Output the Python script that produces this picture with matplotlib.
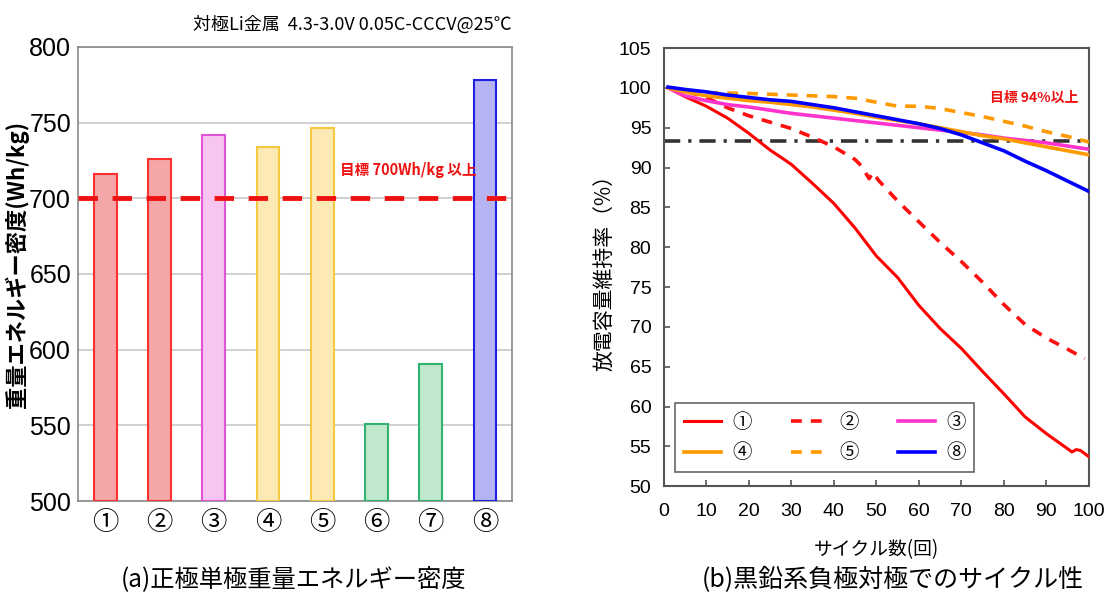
import matplotlib
matplotlib.use("Agg")
import matplotlib.pyplot as plt
from matplotlib import font_manager

names = {f.name for f in font_manager.fontManager.ttflist}
NARROW = 'Liberation Sans Narrow' if 'Liberation Sans Narrow' in names else 'Liberation Sans'
JP = 'Noto Sans CJK JP'
plt.rcParams['font.family'] = [JP, 'DejaVu Sans']

# ---- data: panel (a) ----
bar_labels = ['①', '②', '③', '④', '⑤', '⑥', '⑦', '⑧']
bar_values = [716, 726, 742, 734, 746.5, 551, 590.5, 778]
bar_fill = ['#f5a6a6', '#f5a6a6', '#f8c4f0', '#fde9b4', '#fde9b4', '#bfe8cc', '#bfe8cc', '#b4b4f2']
bar_edge = ['#ff3030', '#ff3030', '#e055d5', '#f5c842', '#f5c842', '#2fb36e', '#2fb36e', '#2020e0']
a_yticks = [500, 550, 600, 650, 700, 750, 800]
target_a = 700

# ---- data: panel (b) ----
c1_x = [1, 5, 10, 15, 20, 25, 30, 35, 40, 45, 50, 55, 60, 65, 70, 75, 80, 85, 90, 95, 96, 97, 98, 100]
c1_y = [100, 98.9, 97.7, 96.2, 94.3, 92.2, 90.4, 88.0, 85.5, 82.4, 78.9, 76.2, 72.7, 69.8, 67.3, 64.4, 61.6, 58.7, 56.6, 54.7, 54.3, 54.6, 54.5, 53.7]
c2_x = [1, 5, 10, 15, 20, 25, 30, 35, 40, 45, 46.5, 48.3, 49.2, 50.5, 55, 60, 65, 70, 75, 80, 85, 90, 95, 99]
c2_y = [100, 99.6, 98.8, 97.5, 96.5, 95.7, 94.9, 93.8, 92.6, 91.0, 90.2, 88.6, 89.4, 88.4, 85.8, 83.2, 80.6, 78.2, 75.6, 72.8, 70.3, 68.6, 67.2, 66.0]
c3_x = [1, 5, 10, 15, 20, 25, 30, 35, 40, 45, 50, 55, 60, 65, 70, 75, 80, 85, 90, 95, 100]
c3_y = [100, 99.0, 98.4, 97.9, 97.6, 97.2, 96.8, 96.5, 96.2, 95.9, 95.6, 95.3, 95.0, 94.7, 94.4, 94.1, 93.7, 93.4, 93.1, 92.7, 92.3]
c4_x = [1, 5, 10, 15, 20, 25, 30, 35, 40, 45, 50, 55, 60, 65, 70, 75, 80, 85, 90, 95, 100]
c4_y = [100, 99.5, 99.0, 98.7, 98.4, 98.2, 97.9, 97.6, 97.2, 96.8, 96.3, 95.9, 95.5, 95.0, 94.5, 94.0, 93.6, 93.1, 92.6, 92.1, 91.6]
c5_x = [1, 5, 10, 20, 30, 40, 45, 50, 55, 60, 65, 70, 75, 80, 85, 90, 95, 100]
c5_y = [100, 99.6, 99.4, 99.3, 99.1, 98.9, 98.7, 98.2, 97.7, 97.7, 97.4, 96.9, 96.4, 95.8, 95.2, 94.5, 93.9, 93.2]
c8_x = [1, 5, 10, 15, 20, 25, 30, 35, 40, 45, 50, 55, 60, 65, 70, 75, 80, 85, 90, 95, 100]
c8_y = [100.1, 99.8, 99.5, 99.1, 98.8, 98.5, 98.3, 97.9, 97.5, 97.0, 96.5, 96.0, 95.5, 94.9, 94.1, 93.1, 92.1, 90.8, 89.6, 88.3, 87.0]
target_b = 93.3
b_xticks = list(range(0, 101, 10))
b_yticks = list(range(50, 106, 5))

fig = plt.figure(figsize=(11.10, 5.93), dpi=100)

# ================= panel (a) =================
ax1 = fig.add_axes([0.0703, 0.155, 0.391, 0.766])
xs = list(range(len(bar_values)))
ax1.bar(xs, [v - 500 for v in bar_values], bottom=500, width=0.42,
        color=bar_fill, edgecolor=bar_edge, linewidth=1.5, zorder=3)
ax1.axhline(target_a, color='#ee1111', lw=3.5, ls=(0, (4, 3)), zorder=4)
ax1.set_xlim(-0.5, 7.5)
ax1.set_ylim(500, 800)
ax1.set_yticks(a_yticks)
ax1.set_yticklabels([str(t) for t in a_yticks], family=[NARROW, 'DejaVu Sans'], fontsize=18)
ax1.set_xticks(xs)
ax1.set_xticklabels(bar_labels, fontsize=19, family=[JP, 'DejaVu Sans'])
ax1.tick_params(axis='y', length=0, pad=5)
ax1.tick_params(axis='x', length=0, pad=6)
ax1.grid(axis='y', color='#c8c8c8', lw=1.2, zorder=0)
for s in ax1.spines.values():
    s.set_color('#8a8a8a')
    s.set_linewidth(1.2)
ax1.set_ylabel('重量エネルギー密度(Wh/kg)', fontsize=16, fontweight='bold')
ax1.yaxis.set_label_coords(-0.112, 0.52)
ax1.text(4.32, 718.5, '目標 700Wh/kg 以上', color='#ee1111', fontsize=10.5,
         fontweight='bold', va='center', ha='left', zorder=5)
fig.text(0.461, 0.958, '対極Li金属  4.3-3.0V 0.05C-CCCV@25℃', ha='right', va='center',
         fontsize=13, family=[JP, 'DejaVu Sans'])
fig.text(0.2645, 0.022, '(a)正極単極重量エネルギー密度', ha='center', va='center', fontsize=17.5)

# ================= panel (b) =================
ax2 = fig.add_axes([0.598, 0.180, 0.383, 0.739])
h1, = ax2.plot(c1_x, c1_y, color='#ff0000', lw=2.2, zorder=3)
h2, = ax2.plot(c2_x, c2_y, color='#ff1010', lw=2.6, ls=(0, (3, 2.5)), zorder=3)
h3, = ax2.plot(c3_x, c3_y, color='#ff33cc', lw=2.6, zorder=3)
h4, = ax2.plot(c4_x, c4_y, color='#ff9900', lw=2.6, zorder=3)
h5, = ax2.plot(c5_x, c5_y, color='#ff9900', lw=2.6, ls=(0, (3, 2.5)), zorder=3)
h8, = ax2.plot(c8_x, c8_y, color='#0000ff', lw=2.6, zorder=3)
ax2.axhline(target_b, color='#333333', lw=2.6, ls=(0, (4.5, 2.2, 0.9, 2.2)), zorder=2)
ax2.set_xlim(0, 100)
ax2.set_ylim(50, 105)
ax2.set_xticks(b_xticks)
ax2.set_yticks(b_yticks)
ax2.set_xticklabels([str(t) for t in b_xticks], family=[NARROW, 'DejaVu Sans'], fontsize=14)
ax2.set_yticklabels([str(t) for t in b_yticks], family=[NARROW, 'DejaVu Sans'], fontsize=14)
ax2.tick_params(axis='both', direction='in', length=4, width=1.2, color='#555555')
ax2.tick_params(axis='x', pad=12)
ax2.tick_params(axis='y', pad=9)
for s in ax2.spines.values():
    s.set_color('#555555')
    s.set_linewidth(1.5)
ax2.set_xlabel('サイクル数(回)', fontsize=13.5, labelpad=14)
ax2.set_ylabel('放電容量維持率（%）', fontsize=15, labelpad=2)
ax2.text(76.7, 98.7, '目標 94%以上', color='#ee1111', fontsize=10, fontweight='bold',
         va='center', ha='left')
order = [h1, h4, h2, h5, h3, h8]
labs = ['①', '④', '②', '⑤', '③', '⑧']
leg = ax2.legend(order, labs, ncol=3, loc='lower left', bbox_to_anchor=(0.026, 0.032),
                 borderaxespad=0, fontsize=14, frameon=True, fancybox=False,
                 edgecolor='#666666', framealpha=1,
                 handlelength=1.9, columnspacing=2.0, handletextpad=0.6,
                 borderpad=0.45, labelspacing=0.5)
leg.get_frame().set_linewidth(1.2)
leg.set_zorder(10)
fig.text(0.804, 0.022, '(b)黒鉛系負極対極でのサイクル性', ha='center', va='center', fontsize=18)

fig.savefig('out.png', dpi=100)
